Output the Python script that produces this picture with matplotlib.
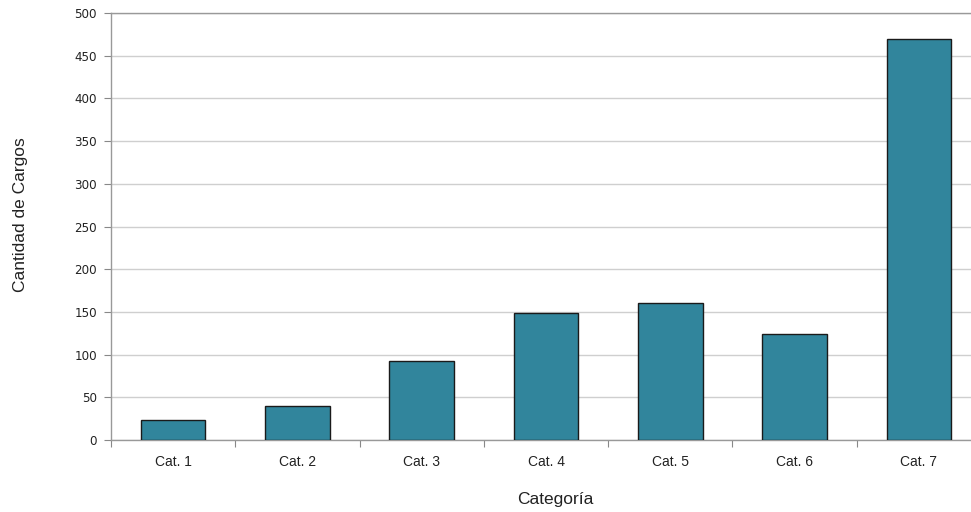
import numpy as np
import matplotlib
matplotlib.use("Agg")
import matplotlib.pyplot as plt
from matplotlib.ticker import FixedLocator, NullFormatter

categorias = ["Cat. 1", "Cat. 2", "Cat. 3", "Cat. 4", "Cat. 5", "Cat. 6", "Cat. 7"]
cargos = [23, 40, 93, 149, 160, 124, 469]
y_ticks = [0, 50, 100, 150, 200, 250, 300, 350, 400, 450, 500]

fig = plt.figure(figsize=(9.71, 5.12), dpi=100)
# axes runs a bit past the right edge of the picture, as in the original
ax = fig.add_axes([111 / 971, 1 - 440 / 512, 870 / 971, 427 / 512])

x = np.arange(len(categorias))
ax.bar(x, cargos, width=0.52, color="#31859c", edgecolor="#1a1a1a", linewidth=1.0, zorder=3)

ax.set_xlim(-0.5, len(categorias) - 0.5)
ax.set_ylim(0, 500)
ax.set_yticks(y_ticks)
ax.yaxis.grid(True, color="#cfcfcf", linewidth=1.0, zorder=0)
ax.set_axisbelow(True)

# ticks on category boundaries, labels at the centers
ax.xaxis.set_major_locator(FixedLocator(np.arange(-0.5, len(categorias) + 0.5, 1.0)))
ax.xaxis.set_major_formatter(NullFormatter())
ax.xaxis.set_minor_locator(FixedLocator(x))
ax.set_xticklabels(categorias, minor=True, fontname="Liberation Sans", fontsize=10, color="#222222")
ax.tick_params(axis="x", which="major", length=5, color="#888888", direction="out")
ax.tick_params(axis="x", which="minor", length=0, pad=11)
ax.tick_params(axis="y", length=5, color="#888888", labelsize=8.6, labelcolor="#222222", pad=5)

for side in ["left", "bottom", "top"]:
    ax.spines[side].set_color("#999999")
    ax.spines[side].set_linewidth(1.0)
ax.spines["right"].set_visible(False)

ax.set_xlabel("Categoría", fontname="Liberation Sans", fontsize=12.5, color="#222222")
ax.set_ylabel("Cantidad de Cargos", fontname="Liberation Sans", fontsize=12.5, color="#222222")
ax.xaxis.set_label_coords((517 + 38 - 111) / 870, -0.122)
ax.yaxis.set_label_coords((28 - 111) / 870, (440 - 215) / 427)

fig.savefig("out.png", dpi=100)
